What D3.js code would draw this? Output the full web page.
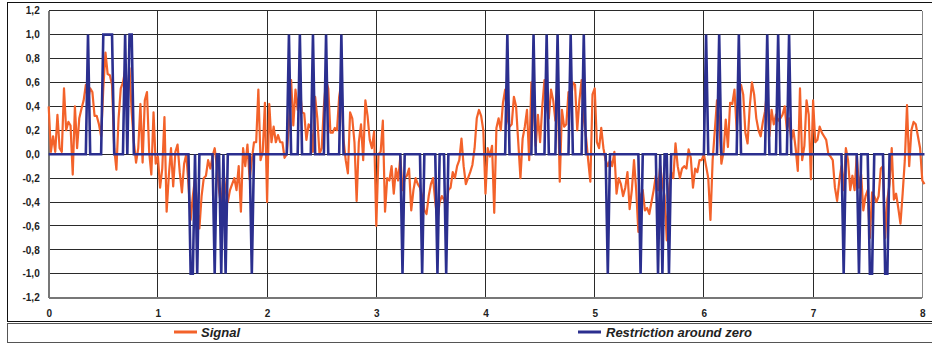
<!DOCTYPE html>
<html>
<head>
<meta charset="utf-8">
<script src="https://cdn.jsdelivr.net/npm/d3@7"></script>
<style>
  body { margin: 0; background: #fff; }
  svg { display: block; }
</style>
</head>
<body>
<div id="chart"></div>
<script>
// samples are every 0.02 on the x axis, starting at 0
const xStep = 0.02;

const signal = [
  0.40, 0.02, 0.15, 0.02, 0.33, 0.05, 0.02, 0.55, 0.20, 0.27,
  0.24, -0.17, 0.40, 0.05, 0.30, 0.38, 0.45, 0.58, 0.45, 0.55,
  0.52, 0.32, 0.32, 0.25, 0.15, 0.55, 0.85, 0.67, 0.66, 0.58,
  0.05, -0.13, 0.30, 0.55, 0.60, 0.70, 0.45, 0.72, 0.35, 0.10,
  -0.07, 0.05, 0.42, -0.07, 0.45, 0.52, 0.02, -0.17, 0.35, -0.08,
  -0.02, -0.28, -0.12, 0.31, -0.48, -0.18, 0.05, -0.27, 0.02, 0.08,
  -0.15, -0.32, -0.08, 0.00, -0.25, -0.55, -0.35, -0.20, -0.45, -0.62,
  -0.35, -0.20, -0.18, -0.05, -0.12, -0.02, 0.05, -0.10, -0.30, -0.45,
  -0.15, -0.30, -0.40, -0.30, -0.25, -0.20, -0.30, -0.10, -0.48, 0.05,
  -0.10, 0.08, -0.21, -0.05, 0.10, 0.10, 0.54, -0.05, 0.02, 0.43,
  -0.40, 0.42, 0.10, 0.23, 0.10, 0.16, 0.10, 0.10, -0.03, 0.00,
  0.25, 0.62, 0.24, 0.54, 0.37, 0.55, 0.35, 0.34, 0.12, 0.25,
  0.22, 0.02, 0.48, 0.30, 0.00, 0.05, 0.40, 0.62, 0.55, 0.18,
  0.18, 0.22, 0.20, 0.48, 0.60, 0.12, -0.05, -0.16, 0.35, 0.30,
  0.10, -0.39, 0.10, 0.25, -0.05, 0.45, 0.32, 0.12, 0.05, 0.19,
  -0.60, 0.00, 0.02, 0.28, -0.48, -0.20, -0.22, -0.10, -0.33, -0.12,
  -0.22, -0.02, -0.30, -0.20, -0.18, -0.12, -0.47, -0.30, -0.20, -0.25,
  -0.28, -0.35, -0.47, -0.50, -0.35, -0.25, -0.20, -0.40, -0.55, -0.40,
  -0.35, -0.38, -0.45, -0.30, -0.28, -0.15, -0.20, -0.10, -0.05, 0.13,
  -0.10, -0.25, -0.20, -0.15, -0.09, 0.05, 0.30, 0.37, 0.32, 0.20,
  -0.33, 0.05, -0.02, 0.07, -0.49, 0.22, 0.30, 0.20, 0.43, 0.54,
  0.30, 0.23, 0.25, 0.48, 0.40, 0.10, -0.20, 0.13, 0.23, 0.37,
  -0.05, 0.60, 0.40, 0.07, 0.33, 0.10, 0.40, 0.62, 0.40, 0.30,
  0.54, 0.45, 0.28, 0.62, -0.23, 0.37, 0.23, 0.25, 0.52, 0.42,
  0.60, 0.58, 0.20, 0.45, 0.62, 0.30, 0.15, -0.05, -0.23, 0.50,
  0.55, 0.10, 0.05, 0.22, 0.05, -0.05, -0.10, -0.05, -0.10, 0.02,
  -0.33, -0.20, -0.25, -0.35, -0.28, -0.15, -0.46, -0.30, -0.05, -0.30,
  -0.65, -0.35, -0.30, -0.47, -0.45, -0.50, -0.40, -0.30, -0.18, -0.30,
  -0.10, -0.25, -0.35, -0.72, -0.30, -0.15, -0.20, 0.09, -0.10, -0.20,
  -0.12, -0.10, -0.12, 0.04, -0.03, -0.28, -0.12, -0.15, -0.05, -0.05,
  0.00, -0.10, -0.20, -0.55, -0.05, 0.20, 0.45, 0.30, -0.08, 0.02,
  0.29, 0.06, 0.43, 0.42, 0.54, 0.20, 0.55, 0.58, 0.50, 0.18,
  0.09, 0.40, 0.60, 0.50, 0.30, 0.20, 0.15, 0.27, 0.36, 0.55,
  0.15, 0.37, 0.25, 0.33, 0.28, 0.30, 0.33, 0.40, 0.20, 0.30,
  0.12, 0.20, 0.05, -0.14, 0.55, -0.05, 0.07, 0.45, 0.33, -0.21,
  0.45, 0.10, 0.12, 0.23, 0.18, 0.15, 0.12, 0.00, -0.02, -0.05,
  -0.28, -0.39, -0.22, -0.10, -0.30, 0.05, -0.05, -0.30, -0.18, -0.30,
  0.00, -0.28, -0.17, -0.47, -0.35, -0.30, -0.70, -0.32, -0.35, -0.40,
  -0.35, -0.12, -0.10, -0.70, -0.38, -0.25, 0.05, -0.38, -0.33, -0.45,
  -0.58, -0.33, -0.05, 0.41, -0.10, 0.20, 0.27, 0.25, 0.15, 0.05,
  -0.22, -0.25
];

const restriction = [
  0, 0, 0, 0, 0, 0, 0, 0, 0, 0,
  0, 0, 0, 0, 0, 0, 0, 0, 1, 0,
  0, 0, 0, 0, 0, 1, 1, 1, 1, 1,
  0, 0, 0, 0, 0, 1, 0, 1, 1, 0,
  0, 0, 0, 0, 0, 0, 0, 0, 0, 0,
  0, 0, 0, 0, 0, 0, 0, 0, 0, 0,
  0, 0, 0, 0, 0, -1, -1, 0, -1, 0,
  0, 0, 0, 0, 0, 0, -1, 0, 0, -1,
  0, -1, 0, 0, 0, 0, 0, 0, 0, 0,
  0, 0, 0, -1, 0, 0, 0, 0, 0, 0,
  0, 0, 0, 0, 0, 0, 0, 0, 0, 0,
  1, 0, 0, 0, 0, 1, 0, 0, 0, 0,
  0, 1, 0, 0, 0, 0, 0, 1, 0, 0,
  0, 0, 0, 0, 1, 0, 0, 0, 0, 0,
  0, 0, 0, 0, 0, 0, 0, 0, 0, 0,
  0, 0, 0, 0, 0, 0, 0, 0, 0, 0,
  0, 0, -1, 0, 0, 0, 0, 0, 0, 0,
  0, -1, 0, 0, 0, 0, 0, 0, -1, 0,
  0, 0, -1, 0, 0, 0, 0, 0, 0, 0,
  0, 0, 0, 0, 0, 0, 0, 0, 0, 0,
  0, 0, 0, 0, 0, 0, 0, 0, 0, 0,
  1, 0, 0, 0, 0, 0, 0, 0, 0, 0,
  0, 0, 1, 0, 0, 0, 0, 0, 1, 0,
  0, 0, 0, 1, 0, 0, 0, 0, 0, 1,
  0, 0, 0, 0, 0, 1, 0, 0, 0, 0,
  0, 0, 0, 0, 0, 0, -1, 0, 0, 0,
  0, 0, 0, 0, 0, 0, 0, 0, 0, 0,
  0, -1, 0, 0, 0, 0, 0, 0, 0, -1,
  0, -1, 0, 0, -1, 0, 0, 0, 0, 0,
  0, 0, 0, 0, 0, 0, 0, 0, 0, 0,
  0, 1, 0, 0, 0, 0, 0, 1, 0, 0,
  0, 0, 0, 0, 0, 0, 1, 0, 0, 0,
  0, 0, 0, 0, 0, 0, 0, 0, 0, 1,
  0, 0, 0, 0, 1, 0, 0, 0, 0, 1,
  0, 0, 0, 0, 0, 0, 0, 0, 0, 0,
  0, 0, 0, 0, 0, 0, 0, 0, 0, 0,
  0, 0, 0, 0, -1, 0, 0, 0, 0, 0,
  0, -1, 0, 0, 0, 0, -1, -1, 0, 0,
  0, 0, 0, -1, -1, 0, 0, 0, 0, 0,
  0, 0, 0, 0, 0, 0, 0, 0, 0, 0,
  0, 0
];

const xTicks = [0, 1, 2, 3, 4, 5, 6, 7, 8];
const yTicks = [-1.2, -1.0, -0.8, -0.6, -0.4, -0.2, 0.0, 0.2, 0.4, 0.6, 0.8, 1.0, 1.2];
const seriesNames = ["Signal", "Restriction around zero"];
const seriesColors = ["#f3622a", "#2b2f8f"];

const W = 932, H = 344;
const plot = { left: 48.7, right: 922.3, top: 10.7, bottom: 297.7 };

const svg = d3.select("#chart")
    .append("svg")
    .attr("width", W)
    .attr("height", H)
    .style("font-family", "'Liberation Sans', Arial, sans-serif");

svg.append("rect").attr("width", W).attr("height", H).attr("fill", "#fff");

// outer frame + legend strip
svg.append("rect")
    .attr("x", 7.5).attr("y", 2.5)
    .attr("width", 940).attr("height", 319)
    .attr("fill", "none").attr("stroke", "#111").attr("stroke-width", 1);
svg.append("rect")
    .attr("x", 7.5).attr("y", 323.5)
    .attr("width", 940).attr("height", 19)
    .attr("fill", "none").attr("stroke", "#555").attr("stroke-width", 1);

const x = d3.scaleLinear().domain([0, 8]).range([plot.left, plot.right]);
const y = d3.scaleLinear().domain([-1.2, 1.2]).range([plot.bottom, plot.top]);

const locale = d3.formatLocale({ decimal: ",", thousands: ".", grouping: [3], currency: ["", ""], minus: "-" });
const fmt = locale.format(".1f");

// grid
const grid = svg.append("g").attr("shape-rendering", "crispEdges");
grid.selectAll(".hgrid")
    .data(yTicks)
    .join("line")
    .attr("x1", plot.left).attr("x2", plot.right)
    .attr("y1", d => y(d)).attr("y2", d => y(d))
    .attr("stroke", "#2a2a2a").attr("stroke-width", 1);
grid.selectAll(".vgrid")
    .data(xTicks.slice(1, -1))
    .join("line")
    .attr("x1", d => x(d)).attr("x2", d => x(d))
    .attr("y1", plot.top).attr("y2", plot.bottom)
    .attr("stroke", "#2a2a2a").attr("stroke-width", 1);

// plot edges
grid.append("line")
    .attr("x1", plot.right).attr("x2", plot.right)
    .attr("y1", plot.top).attr("y2", plot.bottom)
    .attr("stroke", "#888").attr("stroke-width", 1);
grid.append("line")
    .attr("x1", plot.left).attr("x2", plot.left)
    .attr("y1", plot.top).attr("y2", plot.bottom)
    .attr("stroke", "#777").attr("stroke-width", 2);
grid.append("line")
    .attr("x1", plot.left).attr("x2", plot.right)
    .attr("y1", plot.bottom).attr("y2", plot.bottom)
    .attr("stroke", "#777").attr("stroke-width", 2);

// axes
const yAxis = svg.append("g")
    .attr("transform", `translate(${plot.left},0)`)
    .call(d3.axisLeft(y).tickValues(yTicks).tickFormat(fmt).tickSize(0).tickPadding(9));
const xAxis = svg.append("g")
    .attr("transform", `translate(0,${plot.bottom})`)
    .call(d3.axisBottom(x).tickValues(xTicks).tickFormat(d3.format("d")).tickSize(0).tickPadding(12));
[yAxis, xAxis].forEach(a => {
    a.select(".domain").remove();
    a.selectAll("text")
        .attr("fill", "#222")
        .style("font-size", "10px")
        .style("font-weight", "bold")
        .style("font-family", "'Liberation Sans', Arial, sans-serif");
});

// series
const line = d3.line()
    .x((d, i) => x(i * xStep))
    .y(d => y(d));

svg.append("path")
    .datum(signal)
    .attr("fill", "none")
    .attr("stroke", seriesColors[0])
    .attr("stroke-width", 2.2)
    .attr("stroke-linejoin", "round")
    .attr("d", line);

svg.append("path")
    .datum(restriction)
    .attr("fill", "none")
    .attr("stroke", seriesColors[1])
    .attr("stroke-width", 2.6)
    .attr("d", line);

// legend
const legendPos = [{ x: 174, tx: 201 }, { x: 578, tx: 606 }];
const legend = svg.selectAll(".legend")
    .data(seriesNames)
    .join("g")
    .attr("class", "legend");
legend.append("line")
    .attr("x1", (d, i) => legendPos[i].x)
    .attr("x2", (d, i) => legendPos[i].x + 23)
    .attr("y1", 332).attr("y2", 332)
    .attr("stroke", (d, i) => seriesColors[i])
    .attr("stroke-width", 3);
legend.append("text")
    .attr("x", (d, i) => legendPos[i].tx)
    .attr("y", 337)
    .attr("fill", "#222")
    .style("font-size", "13px")
    .style("font-weight", "bold")
    .style("font-style", "italic")
    .text(d => d);
</script>
</body>
</html>
